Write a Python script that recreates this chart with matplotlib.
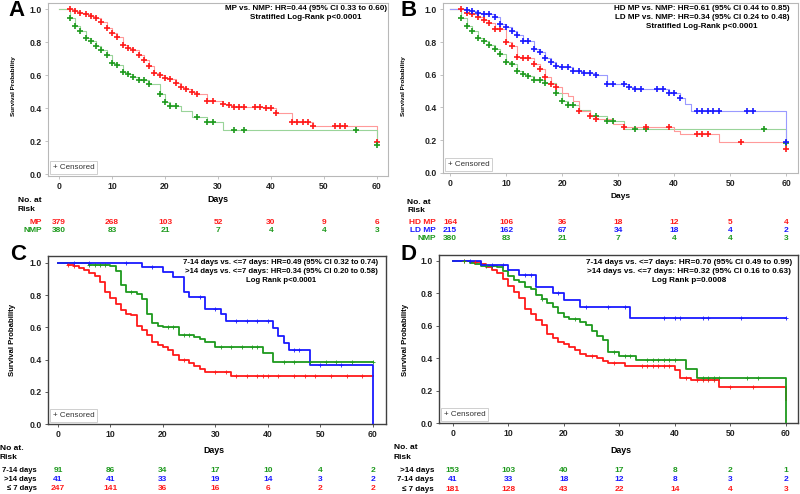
"""Kaplan-Meier survival panels A-D with numbers at risk
"""
import numpy as np
import matplotlib
matplotlib.use("Agg")
import matplotlib.pyplot as plt
import matplotlib.transforms as mtransforms

plt.rcParams['font.family'] = ['Liberation Sans', 'DejaVu Sans']

W, H = 800, 494

RED = '#ff1a1a'
GREEN = '#1e9a1e'
BLUE = '#1a1aff'

risk_days = [0, 10, 20, 30, 40, 50, 60]

# ---- panel A : MP vs NMP
a_mp_t = [0, 3, 4, 5, 6, 7, 8, 9, 10, 11, 12, 13, 14, 15, 16, 17, 18, 19, 20, 21, 22, 23, 24, 25, 26,
          28, 31, 32, 33, 39, 41, 44, 48, 60]
a_mp_s = [1.0, 0.99, 0.98, 0.97, 0.96, 0.95, 0.925, 0.885, 0.855, 0.83, 0.785, 0.765, 0.755, 0.725,
          0.695, 0.655, 0.615, 0.60, 0.585, 0.575, 0.555, 0.53, 0.515, 0.50, 0.485, 0.445, 0.425,
          0.42, 0.41, 0.40, 0.37, 0.32, 0.295, 0.195]
a_mp_cens = [2, 3, 4, 5, 6, 7, 8, 9, 10, 11, 12, 13, 14, 15, 16, 17, 18, 19, 20, 21, 22, 23, 24, 25,
             26, 28, 29, 31, 32, 33, 34, 35, 37, 38, 39, 40, 41, 44, 45, 46, 47, 48, 52, 53, 54, 60]
nmp_t = [0, 2, 3, 4, 5, 6, 7, 8, 9, 10, 11, 12, 13, 14, 15, 17, 19, 20, 21, 23, 25, 28, 31, 60]
nmp_s = [1.0, 0.95, 0.90, 0.87, 0.825, 0.805, 0.78, 0.755, 0.725, 0.675, 0.665, 0.62, 0.605, 0.59,
         0.57, 0.55, 0.485, 0.44, 0.415, 0.385, 0.35, 0.315, 0.27, 0.18]
nmp_cens = [2, 3, 4, 5, 6, 7, 8, 9, 10, 11, 12, 13, 14, 15, 16, 17, 19, 20, 21, 22, 26, 28, 29,
            33, 35, 56, 60]
a_risk_mp = [379, 268, 103, 52, 30, 9, 6]
a_risk_nmp = [380, 83, 21, 7, 4, 4, 3]

# ---- panel B : HD MP / LD MP / NMP
b_hd_t = [0, 3, 4, 5, 6, 7, 8, 10, 11, 12, 13, 15, 16, 17, 18, 19, 20, 21, 22, 23, 25, 26, 29, 31,
          40, 41, 48, 60]
b_hd_s = [1.0, 0.98, 0.97, 0.955, 0.935, 0.918, 0.88, 0.80, 0.777, 0.71, 0.70, 0.667, 0.637, 0.588,
          0.54, 0.527, 0.49, 0.47, 0.44, 0.38, 0.347, 0.33, 0.30, 0.278, 0.255, 0.235, 0.19, 0.145]
b_hd_cens = [2, 3, 4, 5, 6, 7, 8, 9, 10, 11, 12, 13, 14, 15, 16, 17, 18, 19, 23, 25, 26, 31, 35,
             39, 44, 45, 46, 52, 60]
b_ld_t = [0, 3, 4, 5, 6, 8, 9, 10, 11, 12, 13, 15, 16, 17, 18, 19, 20, 22, 24, 26, 28, 32, 33, 39,
          41, 42, 43, 60]
b_ld_s = [1.0, 0.995, 0.99, 0.98, 0.97, 0.955, 0.91, 0.89, 0.865, 0.84, 0.805, 0.76, 0.74, 0.70,
          0.675, 0.655, 0.645, 0.625, 0.61, 0.60, 0.545, 0.525, 0.51, 0.485, 0.455, 0.42, 0.38, 0.19]
b_ld_cens = [3, 4, 5, 6, 7, 8, 9, 10, 11, 12, 13, 14, 15, 16, 17, 18, 19, 20, 21, 22, 23, 24, 25,
             26, 28, 29, 31, 32, 33, 34, 37, 38, 39, 40, 41, 44, 45, 46, 47, 48, 53, 54, 60]
b_risk_hd = [164, 106, 36, 18, 12, 5, 4]
b_risk_ld = [215, 162, 67, 34, 18, 4, 2]
b_risk_nmp = [380, 83, 21, 7, 4, 4, 3]

# ---- panel C : time groups
c_mid_t = [0, 6, 10, 11, 12, 13, 15, 16, 17, 18, 19, 20, 23, 26, 27, 28, 30, 39, 41, 60]
c_mid_s = [1.0, 0.99, 0.98, 0.95, 0.86, 0.82, 0.81, 0.775, 0.68, 0.63, 0.61, 0.60, 0.555, 0.54,
           0.525, 0.51, 0.48, 0.44, 0.385, 0.385]
c_mid_cens = [6, 7, 8, 9, 14, 21, 22, 24, 25, 31, 33, 35, 37, 38, 43, 45, 48, 51, 53, 56, 60]
c_long_t = [0, 16, 20, 22, 24, 25, 28, 31, 32, 41, 42, 43, 44, 48, 60]
c_long_s = [1.0, 0.975, 0.945, 0.915, 0.82, 0.79, 0.715, 0.68, 0.64, 0.595, 0.545, 0.50, 0.46,
            0.365, 0.0]
c_long_cens = [3, 6, 13, 18, 27, 30, 34, 36, 38, 40, 45, 46, 50, 54]
c_short_t = [0, 2, 3, 4, 5, 6, 7, 8, 9, 10, 11, 12, 13, 14, 15, 16, 17, 18, 19, 20, 21, 22, 23, 25,
             26, 27, 28, 33, 60]
c_short_s = [1.0, 0.99, 0.98, 0.97, 0.955, 0.94, 0.92, 0.88, 0.82, 0.78, 0.745, 0.705, 0.685,
             0.675, 0.61, 0.585, 0.55, 0.51, 0.49, 0.475, 0.46, 0.43, 0.40, 0.38, 0.36, 0.34, 0.32,
             0.30, 0.30]
c_short_cens = [2, 3, 24, 30, 32, 34, 36, 38, 39, 40, 42, 45, 47, 49, 52, 55, 58]
c_risk_mid = [91, 86, 34, 17, 10, 4, 2]
c_risk_long = [41, 41, 33, 19, 14, 3, 2]
c_risk_short = [247, 141, 36, 16, 6, 2, 2]

# ---- panel D : time groups
d_g_t = [0, 3, 4, 5, 8, 9, 10, 11, 12, 13, 14, 15, 16, 17, 18, 19, 20, 21, 23, 24, 25, 26, 27, 28,
         30, 33, 42, 44, 60, 60]
d_g_s = [1.0, 0.99, 0.98, 0.97, 0.96, 0.94, 0.905, 0.885, 0.868, 0.84, 0.83, 0.79, 0.767, 0.743,
         0.716, 0.678, 0.654, 0.642, 0.621, 0.607, 0.568, 0.535, 0.514, 0.438, 0.414, 0.387, 0.331,
         0.276, 0.276, 0.0]
d_g_cens = [2, 6, 7, 16, 22, 29, 31, 32, 35, 36, 37, 38, 39, 40, 45, 46, 47, 48, 53, 55]
d_b_t = [0, 5, 10, 12, 15, 18, 20, 23, 32, 60]
d_b_s = [1.0, 0.975, 0.945, 0.915, 0.84, 0.805, 0.76, 0.715, 0.65, 0.65]
d_b_cens = [3, 7, 9, 13, 14, 19, 24, 28, 31, 38, 40, 41, 45, 46, 52, 60]
d_r_t = [0, 3, 5, 6, 7, 8, 9, 10, 11, 12, 13, 14, 15, 16, 17, 18, 19, 20, 21, 22, 23, 24, 26, 27,
         28, 31, 40, 41, 43, 48, 60]
d_r_s = [1.0, 0.995, 0.98, 0.965, 0.945, 0.928, 0.887, 0.844, 0.809, 0.77, 0.706, 0.671,
         0.634, 0.607, 0.547, 0.523, 0.498, 0.49, 0.469, 0.449, 0.424, 0.411, 0.40, 0.381, 0.368,
         0.35, 0.329, 0.28, 0.263, 0.22, 0.145]
d_r_cens = [2, 4, 25, 29, 34, 35, 36, 37, 38, 39, 42, 44, 45, 46, 47, 50, 54]
d_risk_g = [153, 103, 40, 17, 8, 2, 1]
d_risk_b = [41, 33, 18, 12, 8, 3, 2]
d_risk_r = [181, 128, 43, 22, 14, 4, 3]

FS_NOTE = 5.8
FS_RISK = 6.0


def box(l, t, r, b):
    return [l / W, 1 - b / H, (r - l) / W, (b - t) / H]


def fy(y):
    return 1 - y / H


def km(ax, t, s, cens, line_col, mark_col, lw, ms, mew):
    t = np.asarray(t, float)
    s = np.asarray(s, float)
    ax.step(t, s, where='post', color=line_col, lw=lw, zorder=3)
    c = np.asarray(cens, float)
    idx = np.searchsorted(t, c, side='right') - 1
    ax.plot(c, s[idx], ls='none', marker='+', ms=ms, mew=mew, color=mark_col, zorder=4)


def setup(ax, xlim, ylim, light):
    ax.set_xlim(*xlim)
    ax.set_ylim(*ylim)
    ax.set_xticks(risk_days)
    ax.set_yticks([0, 0.2, 0.4, 0.6, 0.8, 1.0])
    ax.set_yticklabels(['0.0', '0.2', '0.4', '0.6', '0.8', '1.0'])
    ec = '#b8b8b8' if light else '#404040'
    for sp in ax.spines.values():
        sp.set_color(ec)
        sp.set_linewidth(0.8 if light else 1.0)
    ax.tick_params(length=2.5, width=0.6, color=ec, labelsize=6.2, pad=2, labelcolor='#222222')
    for lab in ax.get_xticklabels() + ax.get_yticklabels():
        lab.set_fontweight('bold')
    ax.text(0.014, 0.05, '+ Censored', transform=ax.transAxes, fontsize=5.8, va='center',
            color='#333333',
            bbox=dict(boxstyle='square,pad=0.35', fc='white', ec='#c8c8c8', lw=0.6))


def risk_rows(ax, rows, ys, label_x, label_col=None, label_fs=FS_RISK):
    tr = mtransforms.blended_transform_factory(ax.transData, fig.transFigure)
    for (name, vals, col), y in zip(rows, ys):
        fig.text(label_x / W, fy(y), name, ha='right', va='center', fontsize=label_fs,
                 fontweight='bold', color=label_col or col)
        for d, v in zip(risk_days, vals):
            ax.text(d, fy(y), str(v), transform=tr, ha='center', va='center', fontsize=FS_RISK,
                    fontweight='bold', color=col, clip_on=False)


fig = plt.figure(figsize=(W / 100, H / 100), dpi=100)

# ---------------- A
axA = fig.add_axes(box(48, 3, 388, 176))
setup(axA, (-2.1, 62.1), (-0.01, 1.038), True)
km(axA, a_mp_t, a_mp_s, a_mp_cens, '#ff9a9a', RED, 0.8, 5, 1.2)
km(axA, nmp_t, nmp_s, nmp_cens, '#9ad49a', GREEN, 0.8, 5, 1.2)
fig.text(306 / W, fy(5.5), 'MP vs. NMP: HR=0.44 (95% CI 0.33 to 0.60)\nStratified Log-Rank p<0.0001',
         ha='center', va='top', fontsize=FS_NOTE, fontweight='bold', linespacing=1.3)
fig.text(218 / W, fy(199), 'Days', ha='center', va='center', fontsize=6.4, fontweight='bold')
fig.text(14 / W, fy(86), 'Survival Probability', rotation=90, ha='center', va='center',
         fontsize=4.6, fontweight='bold')
fig.text(18 / W, fy(200), 'No. at', ha='left', va='center', fontsize=FS_RISK, fontweight='bold')
fig.text(18 / W, fy(209), 'Risk', ha='left', va='center', fontsize=FS_RISK, fontweight='bold')
risk_rows(axA, [('MP', a_risk_mp, RED), ('NMP', a_risk_nmp, GREEN)], [223, 230], 42)
fig.text(8 / W, fy(10), 'A', ha='left', va='center', fontsize=16, fontweight='bold')

# ---------------- B
axB = fig.add_axes(box(443, 3, 798, 173))
setup(axB, (-1.25, 62.1), (-0.002, 1.039), True)
km(axB, nmp_t, nmp_s, nmp_cens, '#9ad49a', GREEN, 0.8, 5, 1.2)
km(axB, b_hd_t, b_hd_s, b_hd_cens, '#ff9a9a', RED, 0.8, 5, 1.2)
km(axB, b_ld_t, b_ld_s, b_ld_cens, '#9a9aff', BLUE, 0.8, 5, 1.2)
fig.text(702 / W, fy(5.5), 'HD MP vs. NMP: HR=0.61 (95% CI 0.44 to 0.85)\n'
         'LD MP vs. NMP: HR=0.34 (95% CI 0.24 to 0.48)\nStratified Log-Rank p<0.0001',
         ha='center', va='top', fontsize=FS_NOTE, fontweight='bold', linespacing=1.3)
fig.text(621 / W, fy(196), 'Days', ha='center', va='center', fontsize=6.0, fontweight='bold')
fig.text(403 / W, fy(86), 'Survival Probability', rotation=90, ha='center', va='center',
         fontsize=4.6, fontweight='bold')
fig.text(407 / W, fy(202), 'No. at', ha='left', va='center', fontsize=FS_RISK, fontweight='bold')
fig.text(407 / W, fy(211), 'Risk', ha='left', va='center', fontsize=FS_RISK, fontweight='bold')
risk_rows(axB, [('HD MP', b_risk_hd, RED), ('LD MP', b_risk_ld, BLUE), ('NMP', b_risk_nmp, GREEN)],
          [223, 230, 238], 436)
fig.text(400 / W, fy(10), 'B', ha='left', va='center', fontsize=16, fontweight='bold')

# ---------------- C
axC = fig.add_axes(box(48, 256, 386, 424))
setup(axC, (-1.9, 62.5), (0.0, 1.043), False)
km(axC, c_short_t, c_short_s, c_short_cens, RED, RED, 1.3, 2.5, 0.6)
km(axC, c_mid_t, c_mid_s, c_mid_cens, GREEN, GREEN, 1.3, 2.5, 0.6)
km(axC, c_long_t, c_long_s, c_long_cens, BLUE, BLUE, 1.3, 2.5, 0.6)
fig.text(281 / W, fy(259), '7-14 days vs. <=7 days: HR=0.49 (95% CI 0.32 to 0.74)\n'
         '>14 days vs. <=7 days: HR=0.34 (95% CI 0.20 to 0.58)\nLog Rank p<0.0001',
         ha='center', va='top', fontsize=5.6, fontweight='bold', linespacing=1.45)
fig.text(214 / W, fy(450), 'Days', ha='center', va='center', fontsize=6.4, fontweight='bold')
fig.text(13 / W, fy(340), 'Survival Probability', rotation=90, ha='center', va='center',
         fontsize=5.6, fontweight='bold')
fig.text(0 / W, fy(448), 'No at.', ha='left', va='center', fontsize=FS_RISK, fontweight='bold')
fig.text(0 / W, fy(457), 'Risk', ha='left', va='center', fontsize=FS_RISK, fontweight='bold')
risk_rows(axC, [('7-14 days', c_risk_mid, GREEN), ('>14 days', c_risk_long, BLUE),
                ('≤ 7 days', c_risk_short, RED)], [471, 479, 488], 37, 'black', 5.5)
fig.text(10 / W, fy(254), 'C', ha='left', va='center', fontsize=16, fontweight='bold')

# ---------------- D
axD = fig.add_axes(box(439, 255, 798, 423))
setup(axD, (-2.5, 62.2), (0.0, 1.037), False)
km(axD, d_r_t, d_r_s, d_r_cens, RED, RED, 1.3, 2.5, 0.6)
km(axD, d_g_t, d_g_s, d_g_cens, GREEN, GREEN, 1.3, 2.5, 0.6)
km(axD, d_b_t, d_b_s, d_b_cens, BLUE, BLUE, 1.3, 2.5, 0.6)
fig.text(689 / W, fy(259), '7-14 days vs. <=7 days: HR=0.70 (95% CI 0.49 to 0.99)\n'
         '>14 days vs. <=7 days: HR=0.32 (95% CI 0.16 to 0.63)\nLog Rank p=0.0008',
         ha='center', va='top', fontsize=5.9, fontweight='bold', linespacing=1.4)
fig.text(621 / W, fy(450), 'Days', ha='center', va='center', fontsize=6.4, fontweight='bold')
fig.text(406 / W, fy(340), 'Survival Probability', rotation=90, ha='center', va='center',
         fontsize=5.6, fontweight='bold')
fig.text(394 / W, fy(447), 'No. at', ha='left', va='center', fontsize=FS_RISK, fontweight='bold')
fig.text(394 / W, fy(457), 'Risk', ha='left', va='center', fontsize=FS_RISK, fontweight='bold')
risk_rows(axD, [('>14 days', d_risk_g, GREEN), ('7-14 days', d_risk_b, BLUE),
                ('≤ 7 days', d_risk_r, RED)], [471, 479, 489], 434, 'black', 5.8)
fig.text(400 / W, fy(254), 'D', ha='left', va='center', fontsize=16, fontweight='bold')

fig.savefig('out.png', dpi=100)
